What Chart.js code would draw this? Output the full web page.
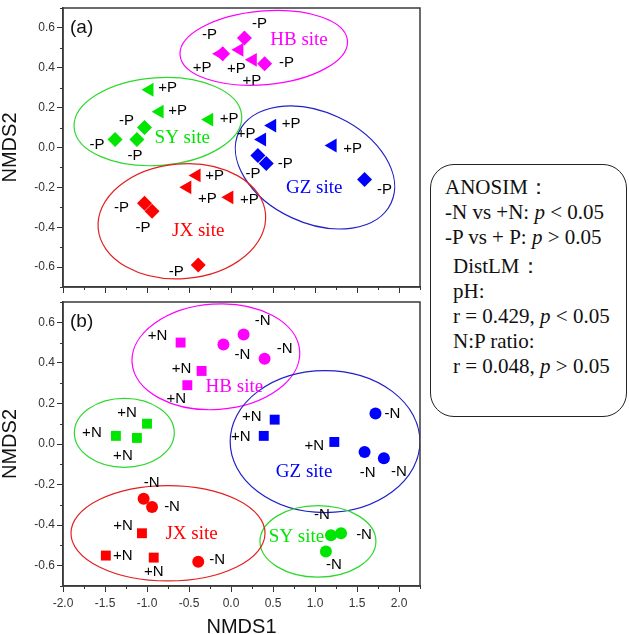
<!DOCTYPE html>
<html>
<head>
<meta charset="utf-8">
<script src="https://cdn.jsdelivr.net/npm/chart.js@4/dist/chart.umd.min.js"></script>
<style>
  body { margin: 0; width: 629px; height: 634px; overflow: hidden; background: #fff; position: relative; }
  canvas { position: absolute; left: 0; }
  #chartA { top: 0; }
  #chartB { top: 295px; }
  #stats {
    position: absolute; left: 430px; top: 164px; width: 197px; height: 253px;
    box-sizing: border-box; border: 1.3px solid #222; border-radius: 24px;
    padding: 10px 0 0 14px; font-family: "Liberation Serif", serif; font-size: 21px;
    line-height: 25px; color: #111; white-space: nowrap;
  }
  #stats .g { margin-left: 8px; }
  #stats .gap { margin-top: 4px; }
</style>
</head>
<body>
<canvas id="chartA" width="430" height="295"></canvas>
<canvas id="chartB" width="430" height="342"></canvas>
<div id="stats">
  <div>ANOSIM：</div>
  <div>-N vs +N: <i>p</i> &lt; 0.05</div>
  <div>-P vs + P: <i>p</i> &gt; 0.05</div>
  <div class="g gap">DistLM：</div>
  <div class="g">pH:</div>
  <div class="g">r = 0.429, <i>p</i> &lt; 0.05</div>
  <div class="g">N:P ratio:</div>
  <div class="g">r = 0.048, <i>p</i> &gt; 0.05</div>
</div>
<script>
// ---- panel (a): triangles = +P, diamonds = -P ----
const hbPlusP_a  = [[-0.13, 0.47], [0.10, 0.49], [0.26, 0.44]];
const hbMinusP_a = [[-0.10, 0.47], [0.16, 0.55], [0.40, 0.42]];
const syPlusP_a  = [[-0.97, 0.29], [-0.85, 0.18], [-0.26, 0.14]];
const syMinusP_a = [[-1.03, 0.10], [-1.38, 0.04], [-1.12, 0.04]];
const gzPlusP_a  = [[0.49, 0.11], [0.37, 0.04], [1.21, 0.01]];
const gzMinusP_a = [[0.32, -0.04], [0.42, -0.08], [1.59, -0.16]];
const jxPlusP_a  = [[-0.41, -0.14], [-0.52, -0.20], [-0.02, -0.25]];
const jxMinusP_a = [[-1.03, -0.28], [-0.94, -0.32], [-0.39, -0.59]];

// ---- panel (b): squares = +N, circles = -N ----
const hbPlusN_b  = [[-0.60, 0.50], [-0.35, 0.36], [-0.52, 0.29]];
const hbMinusN_b = [[-0.09, 0.49], [0.15, 0.54], [0.40, 0.42]];
const gzPlusN_b  = [[0.52, 0.12], [0.39, 0.04], [1.23, 0.01]];
const gzMinusN_b = [[1.72, 0.15], [1.59, -0.04], [1.82, -0.07]];
const syPlusN_b  = [[-1.00, 0.10], [-1.37, 0.04], [-1.12, 0.03]];
const syMinusN_b = [[1.19, -0.45], [1.31, -0.44], [1.13, -0.53]];
const jxPlusN_b  = [[-1.06, -0.44], [-1.49, -0.55], [-0.92, -0.56]];
const jxMinusN_b = [[-1.04, -0.27], [-0.94, -0.31], [-0.39, -0.58]];

// site groupings: centre x, centre y, half-width, half-height (data units), tilt in degrees
const sitesA = ['HB site', 'SY site', 'GZ site', 'JX site'];
const ellA   = [[0.39, 0.50, 1.0, 0.185, -5], [-0.87, 0.13, 1.0, 0.22, -4], [1.0, -0.10, 1.0, 0.278, 25], [-0.585, -0.37, 1.0, 0.288, -5]];
const siteA_xy = [[0.81, 0.54], [-0.58, 0.05], [0.99, -0.205], [-0.39, -0.42]];
const sitesB = ['HB site', '', 'GZ site', 'SY site', 'JX site'];
const ellB   = [[-0.18, 0.43, 1.0, 0.26, -4], [-1.27, 0.055, 0.595, 0.17, 0], [1.12, 0.012, 1.13, 0.35, 0], [1.035, -0.48, 0.69, 0.176, 0], [-0.75, -0.44, 1.155, 0.235, 0]];
const siteB_xy = [[0.04, 0.28], [0, 0], [0.87, -0.14], [0.78, -0.46], [-0.47, -0.445]];

// label offsets from each point, pixels
const offHbPlusP_a  = [[-18, 14], [-3, 19], [-1, 21]];
const offHbMinusP_a = [[-13, -19], [15, -14], [22, -1]];
const offSyPlusP_a  = [[18, -2], [18, -1], [20, -1]];
const offSyMinusP_a = [[-18, -7], [-18, 5], [-2, 16]];
const offGzPlusP_a  = [[19, -2], [-16, -6], [20, 3]];
const offGzMinusP_a = [[-5, 18], [19, 0], [20, 10]];
const offJxPlusP_a  = [[18, 0], [20, 12], [20, 3]];
const offJxMinusP_a = [[-23, 5], [-9, 17], [-22, 7]];
const offHbPlusN_b  = [[-23, -7], [-20, -2], [-11, 14]];
const offHbMinusN_b = [[19, 10], [19, -14], [20, -10]];
const offGzPlusN_b  = [[-23, -3], [-23, 1], [-20, 4]];
const offGzMinusN_b = [[17, 0], [3, 21], [15, 14]];
const offSyPlusN_b  = [[-20, -11], [-24, -3], [-14, 18]];
const offSyMinusN_b = [[-9, -20], [23, 2], [8, 13]];
const offJxPlusN_b  = [[-19, -7], [17, 0], [0, 14]];
const offJxMinusN_b = [[8, -16], [20, 0], [19, -2]];

const MAG = '#ff00ff', GRN = '#00e600', BLU = '#0000ff', RED = '#ff0000';
const ELL_GRN = '#2fd82f', ELL_BLU = '#2020c8', ELL_RED = '#e32020';
const RADIUS = { triangle: 8, rectRot: 7.5, rect: 7, circle: 6 };

function ds(points, color, style, offs, text) {
  return {
    data: points.map(p => ({ x: p[0], y: p[1] })),
    pointStyle: style,
    pointRadius: RADIUS[style],
    pointRotation: style === 'triangle' ? -90 : 0,
    backgroundColor: color,
    borderColor: color,
    borderWidth: 0,
    showLine: false,
    labelOffsets: offs,
    labelText: text
  };
}

// major ticks carry labels; minor ones are drawn shorter by the plugin
const isMajorX = v => Math.round(v * 4) % 2 === 0;
const isMajorY = v => Math.round(v * 10) % 2 === 0;

function decor(ells, ellColors, names, namePos, nameColors, tag) {
  return {
    id: 'decor',
    beforeDatasetsDraw(chart) {
      const { ctx, chartArea: a, scales: { x, y } } = chart;
      ctx.save();
      ctx.beginPath();
      ctx.rect(a.left, a.top, a.right - a.left, a.bottom - a.top);
      ctx.clip();
      ctx.lineWidth = 1.2;
      ells.forEach((e, i) => {
        const cx = x.getPixelForValue(e[0]), cy = y.getPixelForValue(e[1]);
        const rx = Math.abs(x.getPixelForValue(e[0] + e[2]) - cx);
        const ry = Math.abs(y.getPixelForValue(e[1] + e[3]) - cy);
        ctx.strokeStyle = ellColors[i];
        ctx.beginPath();
        ctx.ellipse(cx, cy, rx, ry, e[4] * Math.PI / 180, 0, Math.PI * 2);
        ctx.stroke();
      });
      ctx.restore();
    },
    afterDatasetsDraw(chart) {
      const { ctx, chartArea: a, scales: { x, y } } = chart;
      ctx.save();
      ctx.textAlign = 'center';
      ctx.textBaseline = 'middle';
      ctx.font = '15px "Liberation Sans", Arial, sans-serif';
      ctx.fillStyle = '#000';
      chart.data.datasets.forEach((d, i) => {
        chart.getDatasetMeta(i).data.forEach((pt, j) => {
          const o = d.labelOffsets[j];
          ctx.fillText(d.labelText, pt.x + o[0], pt.y + o[1]);
        });
      });
      ctx.font = '19px "Liberation Serif", "Times New Roman", serif';
      names.forEach((n, i) => {
        if (!n) return;
        ctx.fillStyle = nameColors[i];
        ctx.fillText(n, x.getPixelForValue(namePos[i][0]), y.getPixelForValue(namePos[i][1]));
      });
      ctx.textAlign = 'left';
      ctx.fillStyle = '#111';
      ctx.font = '19px "Liberation Sans", Arial, sans-serif';
      ctx.fillText(tag, a.left + 7, a.top + 20);
      ctx.restore();
    },
    afterDraw(chart) {
      const { ctx, chartArea: a, scales: { x, y } } = chart;
      ctx.save();
      ctx.strokeStyle = '#333';
      ctx.lineWidth = 1;
      ctx.beginPath();
      x.ticks.forEach(t => {
        if (isMajorX(t.value)) return;
        const px = Math.round(x.getPixelForValue(t.value)) + 0.5;
        ctx.moveTo(px, a.bottom);
        ctx.lineTo(px, a.bottom + 3);
      });
      y.ticks.forEach(t => {
        if (isMajorY(t.value)) return;
        const py = Math.round(y.getPixelForValue(t.value)) + 0.5;
        ctx.moveTo(a.left, py);
        ctx.lineTo(a.left - 3, py);
      });
      ctx.stroke();
      ctx.strokeStyle = '#3a3a3a';
      ctx.lineWidth = 1.5;
      ctx.strokeRect(a.left, a.top, a.right - a.left, a.bottom - a.top);
      ctx.restore();
    }
  };
}

function axes(showX, xHeight) {
  const tickFont = { family: 'Liberation Sans', size: 12 };
  return {
    x: {
      type: 'linear', min: -2, max: 2.25,
      ticks: {
        stepSize: 0.25, autoSkip: false, maxRotation: 0, font: tickFont, color: '#333', padding: 4,
        callback: v => (showX && isMajorX(v)) ? v.toFixed(1) : ''
      },
      grid: {
        drawOnChartArea: false, tickLength: 6,
        tickColor: c => (c.tick && isMajorX(c.tick.value)) ? '#333' : 'rgba(0,0,0,0)'
      },
      border: { color: '#3a3a3a', width: 1.5 },
      title: {
        display: showX, text: 'NMDS1', color: '#111', padding: 0,
        font: { family: 'Liberation Sans', size: 20, lineHeight: 1 }
      },
      afterFit: s => { s.height = xHeight; s.paddingLeft = 0; s.paddingRight = 0; }
    },
    y: {
      type: 'linear', min: -0.7, max: 0.7,
      ticks: {
        stepSize: 0.1, autoSkip: false, font: tickFont, color: '#333', padding: 2,
        callback: v => isMajorY(v) ? v.toFixed(1) : ''
      },
      grid: {
        drawOnChartArea: false, tickLength: 6,
        tickColor: c => (c.tick && isMajorY(c.tick.value)) ? '#333' : 'rgba(0,0,0,0)'
      },
      border: { color: '#3a3a3a', width: 1.5 },
      title: {
        display: true, text: 'NMDS2', color: '#111', padding: 0,
        font: { family: 'Liberation Sans', size: 20, lineHeight: 1 }
      },
      afterFit: s => { s.width = 63; s.paddingTop = 0; s.paddingBottom = 0; }
    }
  };
}

function baseOptions(showX, xHeight, padTop) {
  return {
    responsive: false, animation: false, events: [],
    layout: { padding: { left: 0, right: 10, top: padTop, bottom: 0 } },
    plugins: { legend: { display: false }, tooltip: { enabled: false } },
    scales: axes(showX, xHeight)
  };
}

new Chart(document.getElementById('chartA'), {
  type: 'scatter',
  data: {
    datasets: [
      ds(hbPlusP_a, MAG, 'triangle', offHbPlusP_a, '+P'),
      ds(hbMinusP_a, MAG, 'rectRot', offHbMinusP_a, '-P'),
      ds(syPlusP_a, GRN, 'triangle', offSyPlusP_a, '+P'),
      ds(syMinusP_a, GRN, 'rectRot', offSyMinusP_a, '-P'),
      ds(gzPlusP_a, BLU, 'triangle', offGzPlusP_a, '+P'),
      ds(gzMinusP_a, BLU, 'rectRot', offGzMinusP_a, '-P'),
      ds(jxPlusP_a, RED, 'triangle', offJxPlusP_a, '+P'),
      ds(jxMinusP_a, RED, 'rectRot', offJxMinusP_a, '-P')
    ]
  },
  options: baseOptions(false, 7, 1),
  plugins: [decor(ellA, [MAG, ELL_GRN, ELL_BLU, ELL_RED], sitesA, siteA_xy, [MAG, GRN, BLU, RED], '(a)')]
});

new Chart(document.getElementById('chartB'), {
  type: 'scatter',
  data: {
    datasets: [
      ds(hbPlusN_b, MAG, 'rect', offHbPlusN_b, '+N'),
      ds(hbMinusN_b, MAG, 'circle', offHbMinusN_b, '-N'),
      ds(gzPlusN_b, BLU, 'rect', offGzPlusN_b, '+N'),
      ds(gzMinusN_b, BLU, 'circle', offGzMinusN_b, '-N'),
      ds(syPlusN_b, GRN, 'rect', offSyPlusN_b, '+N'),
      ds(syMinusN_b, GRN, 'circle', offSyMinusN_b, '-N'),
      ds(jxPlusN_b, RED, 'rect', offJxPlusN_b, '+N'),
      ds(jxMinusN_b, RED, 'circle', offJxMinusN_b, '-N')
    ]
  },
  options: baseOptions(true, 51, 6),
  plugins: [decor(ellB, [MAG, ELL_GRN, ELL_BLU, ELL_GRN, ELL_RED], sitesB, siteB_xy, [MAG, GRN, BLU, GRN, RED], '(b)')]
});
</script>
</body>
</html>
